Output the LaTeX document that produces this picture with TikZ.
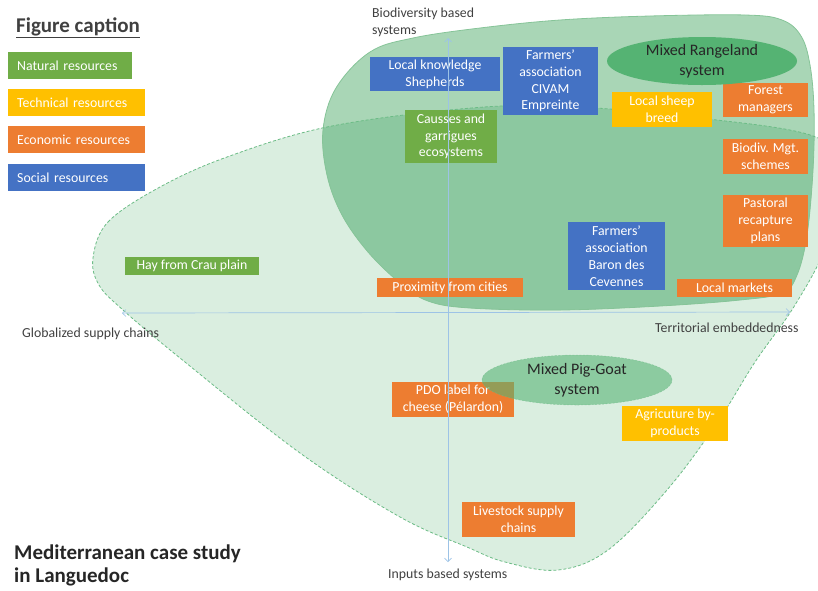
\documentclass[tikz,border=0pt]{standalone}
\usepackage{fontspec}
\setmainfont{Carlito}
\usetikzlibrary{arrows.meta,shapes.geometric}

\definecolor{natgreen}{HTML}{70AD47}
\definecolor{techyellow}{HTML}{FFC000}
\definecolor{ecoorange}{HTML}{ED7D31}
\definecolor{socblue}{HTML}{4472C4}
\definecolor{zoneA}{HTML}{A9D6B6}
\definecolor{zoneAB}{HTML}{8CC8A0}
\definecolor{zoneB}{HTML}{DAEEE0}
\definecolor{zoneBline}{HTML}{6CBC86}
\definecolor{zoneAline}{HTML}{86C498}
\definecolor{ellgreen}{HTML}{55B373}
\definecolor{axisblue}{HTML}{9DC3E6}
\definecolor{labelgray}{HTML}{404040}
\definecolor{darktext}{HTML}{262626}

\newcommand\boxfont{\fontsize{13.8}{16.8}\selectfont}
\newcommand\ellfont{\fontsize{16}{19.5}\selectfont}
\newcommand\captfont{\fontsize{21}{24}\selectfont\bfseries}
\newcommand\titlefont{\fontsize{21}{23}\selectfont\bfseries}

\tikzset{
  res/.style={rectangle, inner sep=0pt, align=center, text=white, font=\boxfont},
  nat/.style={res, fill=natgreen},
  tech/.style={res, fill=techyellow},
  eco/.style={res, fill=ecoorange},
  soc/.style={res, fill=socblue},
  legendbox/.style={anchor=west, inner xsep=9pt, inner ysep=0pt, minimum height=27pt, align=left, text=white, font=\boxfont},
  axislabel/.style={anchor=west, inner sep=0pt, align=left, text=labelgray, font=\boxfont},
  sysell/.style={ellipse, inner xsep=0pt, inner ysep=-4pt, align=center, font=\ellfont, text=darktext},
  axisline/.style={draw=axisblue, line width=0.7pt, {Straight Barb[length=3.5pt,width=7pt]}-{Straight Barb[length=3.5pt,width=7pt]}},
}

\begin{document}
\begin{tikzpicture}[x=1pt,y=-1pt]
\useasboundingbox (0,0) rectangle (818,590);
\clip (0,0) rectangle (818,590);

% shape B (dashed, light)
\path[save path=\shB] plot[smooth cycle, tension=0.6] coordinates {
 (93,258) (108,222) (160,187) (227,157) (327,127) (460,109) (560,106) (700,118)
 (818,138) (836,180) (826,245) (795,305) (755,362) (717,423) (667,490)
 (608,550) (558,570) (505,562) (467,547) (400,517) (300,453) (180,358) (123,310) (99,285)};
% shape A (solid, medium)
\path[save path=\shA] plot[smooth cycle, tension=0.6] coordinates {
 (370,52) (413,38) (480,28) (560,20) (650,16) (745,15) (782,20) (801,36) (810,65)
 (814,110) (813,170) (807,235) (797,275) (782,293) (740,300) (660,306) (560,310)
 (470,308) (428,301) (400,283) (368,252) (342,215) (327,175) (323,130) (336,88)};

\path[fill=zoneB, use path=\shB];
\path[fill=zoneA, use path=\shA];
\begin{scope}
  \clip[use path=\shB];
  \path[fill=zoneAB, use path=\shA];
\end{scope}
\path[draw=zoneAline, line width=0.8pt, use path=\shA];
\path[draw=zoneBline, line width=0.8pt, dashed, dash pattern=on 3pt off 2pt, use path=\shB];

% legend
\node[anchor=west, inner sep=0pt, font=\captfont, text=labelgray] (capt) at (16,28) {\underline{Figure caption}};
\node[legendbox, fill=natgreen, text width=106pt] (lnat) at (8,65.5) {Natural resources};
\node[legendbox, fill=techyellow, text width=119pt] (ltech) at (8,102.5) {Technical resources};
\node[legendbox, fill=ecoorange, text width=119pt] (leco) at (8,139.5) {Economic resources};
\node[legendbox, fill=socblue, text width=119pt] (lsoc) at (8,177.5) {Social resources};

% resource boxes
\node[soc, minimum width=130pt, minimum height=34pt] (lk) at (435,74) {Local knowledge\\Shepherds};
\node[soc, minimum width=95pt, minimum height=68pt] (civam) at (550.5,81) {Farmers’\\association\\CIVAM\\Empreinte};
\node[nat, minimum width=92pt, minimum height=53pt] (causses) at (451,136.5) {Causses and\\garrigues\\ecosystems};
\node[tech, minimum width=100pt, minimum height=35pt] (sheep) at (662,109.5) {Local sheep\\breed};
\node[eco, minimum width=85pt, minimum height=34pt] (forest) at (765.5,100) {Forest\\managers};
\node[eco, minimum width=85pt, minimum height=35pt] (biodiv) at (765.5,156.5) {Biodiv. Mgt.\\schemes};
\node[eco, minimum width=85pt, minimum height=52pt] (pastoral) at (765.5,221) {Pastoral\\recapture\\plans};
\node[soc, minimum width=97pt, minimum height=68pt] (baron) at (616.5,256) {Farmers’\\association\\Baron des\\Cevennes};
\node[eco, minimum width=115pt, minimum height=18pt] (markets) at (734.5,288) {Local markets};
\node[eco, minimum width=146pt, minimum height=19pt] (proximity) at (450,287.5) {Proximity from cities};
\node[nat, minimum width=134pt, minimum height=18pt] (hay) at (192,266) {Hay from Crau plain};
\node[eco, minimum width=122pt, minimum height=35pt] (pdo) at (453,399.5) {PDO label for\\cheese (Pélardon)};
\node[tech, minimum width=106pt, minimum height=35pt] (agri) at (675,423.5) {Agricuture by-\\products};
\node[eco, minimum width=113pt, minimum height=35pt] (livestock) at (518.5,519.5) {Livestock supply\\chains};

% system ellipses
\node[sysell, fill=ellgreen, minimum width=190pt, minimum height=48pt] (rangeland) at (702,61) {Mixed Rangeland\\system};
\node[sysell, fill=ellgreen, fill opacity=0.58, text opacity=1, draw=zoneBline, draw opacity=0.6, dashed, dash pattern=on 2pt off 1.5pt, line width=0.5pt, minimum width=190pt, minimum height=50pt] (piggoat) at (577,380) {Mixed Pig-Goat\\system};

% axes
\coordinate (ytop) at (448,38);
\coordinate (ybot) at (448,562);
\coordinate (xleft) at (122,313);
\coordinate (xright) at (790,312);
\draw[axisline] (ybot) -- (ytop);
\draw[axisline] (xleft) -- (xright);

% axis labels
\node[axislabel] (biolab) at (372,22.5) {Biodiversity based\\systems};
\node[axislabel] (globlab) at (22,333.5) {Globalized supply chains};
\node[axislabel] (terrlab) at (655,327.5) {Territorial embeddedness};
\node[axislabel] (inplab) at (388,574.5) {Inputs based systems};

% title
\node[anchor=north west, align=left, inner sep=0pt, font=\titlefont, text=darktext] (title) at (14,545) {Mediterranean case study\\in Languedoc};
\end{tikzpicture}
\end{document}
